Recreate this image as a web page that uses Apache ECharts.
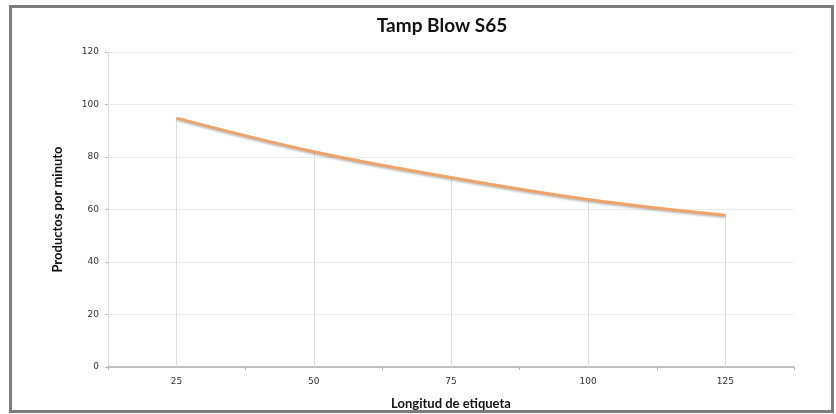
<!DOCTYPE html>
<html>
<head>
<meta charset="utf-8">
<script src="https://cdn.jsdelivr.net/npm/echarts@6/dist/echarts.min.js"></script>
<style>
html,body{margin:0;padding:0;background:#fff;}
#c{width:836px;height:414px;}
</style>
</head>
<body>
<div id="c"></div>
<script>
const categories = ['25', '50', '75', '100', '125'];
const productsPerMinute = [94.8, 82, 72.2, 63.8, 57.8];
const yTicks = { min: 0, max: 120, interval: 20 };

const chart = echarts.init(document.getElementById('c'), null, { renderer: 'canvas' });

const dropLines = productsPerMinute.map((v, i) => [
  { coord: [i, v] },
  { coord: [i, 0] }
]);

chart.setOption({
  backgroundColor: '#fff',
  animation: false,
  title: {
    text: 'Tamp Blow S65',
    left: 437,
    top: 11,
    textAlign: 'center',
    textStyle: { fontFamily: 'Lato', fontWeight: 'bold', fontSize: 19, color: '#111' }
  },
  graphic: [{
    type: 'rect',
    shape: { x: 10.5, y: 6.5, width: 822, height: 405 },
    style: { fill: 'none', stroke: '#7c7c7c', lineWidth: 3 },
    silent: true,
    z: 100
  }],
  grid: { left: 108, right: 42, top: 52, bottom: 47, containLabel: false, outerBoundsMode: 'none' },
  xAxis: {
    type: 'category',
    data: categories,
    boundaryGap: true,
    name: 'Longitud de etiqueta',
    nameLocation: 'middle',
    nameGap: 30,
    nameTextStyle: { fontFamily: 'Lato', fontWeight: 'bold', fontSize: 13, color: '#111' },
    axisLine: { lineStyle: { color: '#b0b0b0', width: 1.5 } },
    axisTick: { show: true, alignWithLabel: false, length: 3, lineStyle: { color: '#b0b0b0' } },
    axisLabel: { fontFamily: 'DejaVu Sans', fontSize: 9, color: '#333', margin: 10 },
    splitLine: { show: false }
  },
  yAxis: {
    type: 'value',
    min: yTicks.min,
    max: yTicks.max,
    interval: yTicks.interval,
    name: 'Productos por minuto',
    nameLocation: 'middle',
    nameGap: 44,
    nameTextStyle: { fontFamily: 'Lato', fontWeight: 'bold', fontSize: 13, color: '#111' },
    axisLine: { show: true, lineStyle: { color: '#dcdcdc', width: 1 } },
    axisTick: { show: true, length: 3, lineStyle: { color: '#b8b8b8' } },
    axisLabel: { fontFamily: 'DejaVu Sans', fontSize: 9, color: '#333', margin: 9 },
    splitLine: { show: true, lineStyle: { color: '#ebebeb', width: 1 } }
  },
  series: [{
    type: 'line',
    data: productsPerMinute,
    smooth: 0.4,
    symbol: 'none',
    lineStyle: {
      color: '#eea36a',
      width: 3,
      shadowColor: 'rgba(0,0,0,0.25)',
      shadowBlur: 2,
      shadowOffsetY: 1.5
    },
    z: 5,
    markLine: {
      silent: true,
      symbol: ['none', 'none'],
      label: { show: false },
      lineStyle: { color: '#dedede', width: 1, type: 'solid' },
      data: dropLines,
      z: 1
    }
  }]
});
</script>
</body>
</html>
